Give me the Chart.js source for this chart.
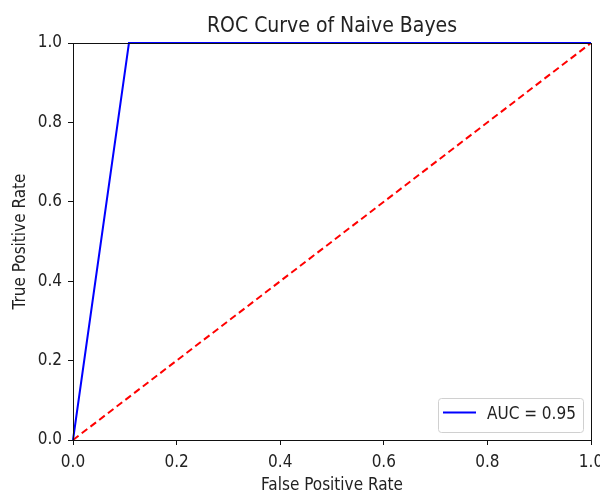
<!DOCTYPE html>
<html>
<head>
<meta charset="utf-8">
<script src="https://cdn.jsdelivr.net/npm/chart.js@4.4.0/dist/chart.umd.min.js"></script>
<style>
  html, body { margin:0; padding:0; background:#fff; }
  #wrap { width:600px; height:496px; position:relative; }
</style>
</head>
<body>
<div id="wrap"><canvas id="roc"></canvas></div>
<script>
// data
const fpr = [0, 0.108, 1];
const tpr = [0, 1, 1];
const diagX = [0, 1];
const diagY = [0, 1];
const tickVals = [0, 0.2, 0.4, 0.6, 0.8, 1.0];
const aucLabel = 'AUC = 0.95';
const titleText = 'ROC Curve of Naive Bayes';

const FONT = "'DejaVu Sans Condensed', 'DejaVu Sans', sans-serif";

// frame, title over the plot area, legend box lower right
const framePlugin = {
  id: 'frame',
  afterDatasetsDraw(chart) {
    const c = chart.ctx, a = chart.chartArea;
    c.save();
    c.strokeStyle = '#111';
    c.lineWidth = 1;
    c.strokeRect(Math.round(a.left) + 0.5, Math.round(a.top) + 0.5,
                 Math.round(a.right - a.left), Math.round(a.bottom - a.top));
    c.restore();
  },
  afterDraw(chart) {
    const c = chart.ctx, a = chart.chartArea;
    c.save();
    c.fillStyle = '#222';
    c.font = '21px ' + FONT;
    c.textAlign = 'center';
    c.textBaseline = 'middle';
    c.fillText(titleText, (a.left + a.right) / 2, 27);

    const w = 145, h = 34;
    const x = a.right - 8 - w, y = a.bottom - 8 - h;
    c.fillStyle = 'rgba(255,255,255,0.8)';
    c.strokeStyle = '#d0d0d0';
    c.lineWidth = 1;
    c.beginPath();
    c.roundRect(x + 0.5, y + 0.5, w, h, 3);
    c.fill(); c.stroke();
    c.strokeStyle = 'blue';
    c.lineWidth = 2;
    c.beginPath();
    c.moveTo(x + 5, y + 14.5); c.lineTo(x + 38, y + 14.5);
    c.stroke();
    c.fillStyle = '#222';
    c.font = '17px ' + FONT;
    c.textAlign = 'left';
    c.fillText(chart.data.datasets[0].label, x + 49, y + 17);
    c.restore();
  }
};

const axisCommon = {
  type: 'linear',
  min: 0, max: 1,
  border: { display: true, color: '#111', width: 1 },
  grid: { display: true, drawOnChartArea: false, drawTicks: true, tickLength: 5, color: '#111' },
};

new Chart(document.getElementById('roc'), {
  type: 'line',
  data: {
    datasets: [{
      label: aucLabel,
      data: fpr.map((v, i) => ({ x: v, y: tpr[i] })),
      borderColor: 'blue',
      borderWidth: 2,
      pointRadius: 0,
      tension: 0,
      clip: false
    }, {
      label: 'chance',
      data: diagX.map((v, i) => ({ x: v, y: diagY[i] })),
      borderColor: 'red',
      borderWidth: 2,
      borderDash: [7, 4],
      pointRadius: 0,
      tension: 0,
      clip: false
    }]
  },
  options: {
    responsive: true,
    maintainAspectRatio: false,
    animation: false,
    layout: { padding: { left: 0, right: 9, top: 43, bottom: 0 } },
    plugins: {
      legend: { display: false },
      tooltip: { enabled: false },
      title: { display: false }
    },
    scales: {
      x: Object.assign({}, axisCommon, {
        afterBuildTicks(s) { s.ticks = tickVals.map(v => ({ value: v })); },
        afterFit(s) { s.height = 56; s.paddingLeft = 0; s.paddingRight = 0; },
        ticks: { color: '#222', font: { family: FONT, size: 17 }, padding: 7, maxRotation: 0,
                 callback: v => v.toFixed(1) },
        title: { display: true, text: 'False Positive Rate', color: '#222',
                 font: { family: FONT, size: 17 }, padding: { top: 0, bottom: 0 } }
      }),
      y: Object.assign({}, axisCommon, {
        afterBuildTicks(s) { s.ticks = tickVals.map(v => ({ value: v })); },
        afterFit(s) { s.width = 73; s.paddingTop = 0; s.paddingBottom = 0; },
        ticks: { color: '#222', font: { family: FONT, size: 17 }, padding: 6,
                 callback: v => v.toFixed(1) },
        title: { display: true, text: 'True Positive Rate', color: '#222',
                 font: { family: FONT, size: 17 }, padding: { top: 10, bottom: 0 } }
      })
    }
  },
  plugins: [framePlugin]
});
</script>
</body>
</html>
